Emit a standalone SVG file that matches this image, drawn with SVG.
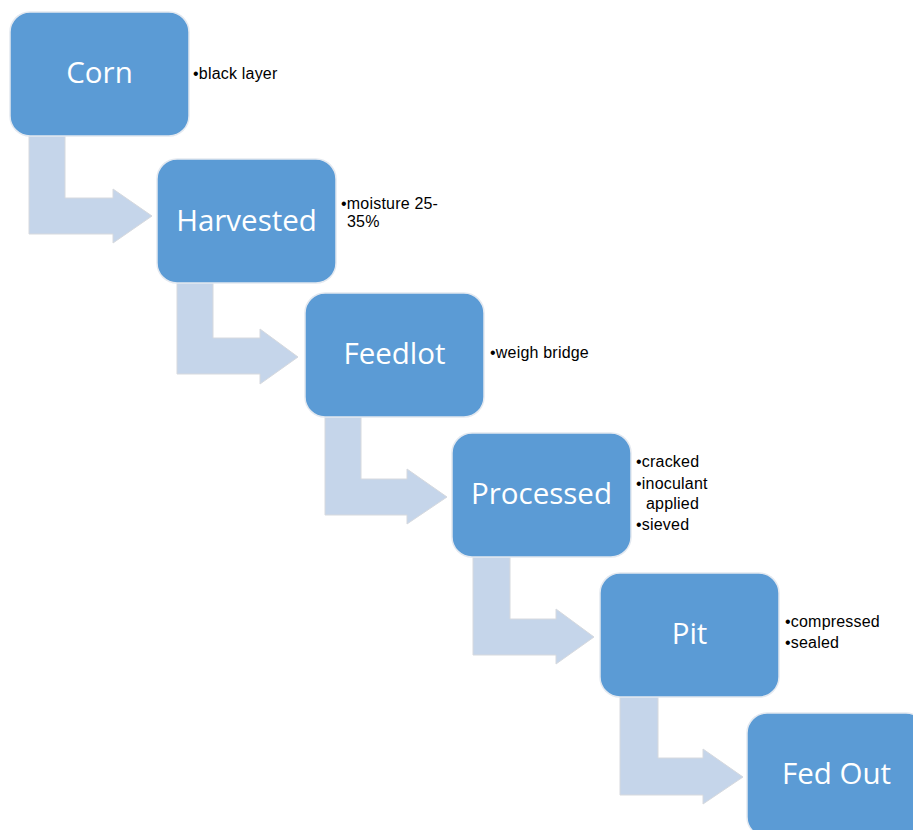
<svg xmlns="http://www.w3.org/2000/svg" width="913" height="830" viewBox="0 0 913 830">
<style>
.box{fill:#5b9bd5;stroke:#e4e9f0;stroke-width:1.5}
.lbl{font-family:"Open Sans","Liberation Sans",sans-serif;font-size:29.5px;fill:#ffffff;text-anchor:middle}
.arr{fill:#c5d5ea;stroke:#d6d9de;stroke-width:1}
.note{font-family:"Liberation Sans",Arial,sans-serif;font-size:16px;fill:#000000;letter-spacing:0.2px}
</style>
<rect width="913" height="830" fill="#ffffff"/>
<g id="connectors">
  <path class="arr" d="M29,132 L65,132 L65,198 L113,198 L113,189 L152,216 L113,243 L113,234 L29,234 Z"/>
  <path class="arr" d="M177,279 L213,279 L213,338 L260,338 L260,329 L298,357 L260,384 L260,374 L177,374 Z"/>
  <path class="arr" d="M325,413 L361,413 L361,479 L407,479 L407,469 L447,497 L407,524 L407,515 L325,515 Z"/>
  <path class="arr" d="M473,553 L510,553 L510,619 L556,619 L556,609 L594,637 L556,664 L556,655 L473,655 Z"/>
  <path class="arr" d="M620,692 L658,692 L658,758 L703,758 L703,749 L743,777 L703,804 L703,795 L620,795 Z"/>
</g>
<g id="corn">
  <rect class="box" x="10" y="12" width="179" height="124" rx="20"/>
  <text class="lbl" x="99.5" y="83">Corn</text>
  <text class="note" x="193" y="79">•black layer</text>
</g>
<g id="harvested">
  <rect class="box" x="157" y="159" width="179" height="124" rx="20"/>
  <text class="lbl" x="246.5" y="231">Harvested</text>
  <text class="note" x="341" y="209">•moisture 25-</text>
  <text class="note" x="347" y="227">35%</text>
</g>
<g id="feedlot">
  <rect class="box" x="305" y="293" width="179" height="124" rx="20"/>
  <text class="lbl" x="394.5" y="364">Feedlot</text>
  <text class="note" x="490" y="358">•weigh bridge</text>
</g>
<g id="processed">
  <rect class="box" x="452" y="433" width="179" height="124" rx="20"/>
  <text class="lbl" x="541.5" y="504">Processed</text>
  <text class="note" x="636" y="467">•cracked</text>
  <text class="note" x="636" y="489">•inoculant</text>
  <text class="note" x="646" y="509">applied</text>
  <text class="note" x="636" y="530">•sieved</text>
</g>
<g id="pit">
  <rect class="box" x="600" y="573" width="179" height="124" rx="20"/>
  <text class="lbl" x="689.5" y="644">Pit</text>
  <text class="note" x="785" y="627">•compressed</text>
  <text class="note" x="785" y="648">•sealed</text>
</g>
<g id="fed-out">
  <rect class="box" x="747" y="713" width="179" height="124" rx="20"/>
  <text class="lbl" x="836.5" y="784">Fed Out</text>
</g>
</svg>
